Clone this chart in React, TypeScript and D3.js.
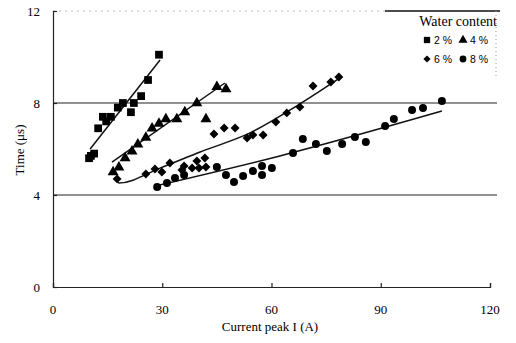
import React, { useEffect, useRef } from "react";
import * as d3 from "d3";

// Measured points: [current peak I (A), time (µs)] per water content
const water2: [number, number][] = [
  [9.9, 5.6], [10.4, 5.7], [11.3, 5.8], [12.4, 6.9], [13.7, 7.4], [14.6, 7.2],
  [15.9, 7.4], [17.8, 7.8], [19.2, 8.0], [21.4, 7.6], [22.2, 8.0], [24.2, 8.3],
  [26.1, 9.0], [29.1, 10.1],
];
const water4: [number, number][] = [
  [16.5, 5.0], [18.1, 5.2], [19.8, 5.6], [21.7, 5.9], [23.3, 6.2], [25.5, 6.5],
  [27.2, 6.9], [29.1, 7.1], [31.0, 7.3], [34.0, 7.3], [36.2, 7.6], [39.5, 8.0],
  [42.0, 7.3], [45.0, 8.7], [47.5, 8.6],
];
const water6: [number, number][] = [
  [17.6, 4.7], [25.5, 4.91], [28.0, 5.13], [29.9, 5.0], [32.1, 5.39], [35.4, 5.09],
  [36.0, 5.26], [38.2, 5.17], [39.5, 5.48], [40.1, 5.17], [41.7, 5.61], [42.0, 5.22],
  [44.2, 6.65], [47.0, 6.91], [50.0, 6.91], [53.3, 6.48], [54.9, 6.61], [57.7, 6.61],
  [61.2, 7.17], [64.2, 7.57], [67.8, 7.83], [71.4, 8.74], [76.3, 8.91], [78.5, 9.13],
];
const water8: [number, number][] = [
  [28.6, 4.35], [31.3, 4.52], [33.5, 4.74], [36.0, 4.87], [45.0, 5.22], [47.5, 4.87],
  [49.7, 4.57], [52.2, 4.83], [54.9, 5.04], [57.4, 5.26], [57.4, 4.87], [60.1, 5.17],
  [65.9, 5.83], [68.6, 6.43], [72.2, 6.22], [75.2, 5.91], [79.4, 6.22], [82.9, 6.52],
  [85.9, 6.3], [91.2, 7.0], [93.6, 7.3], [98.6, 7.7], [101.6, 7.78], [106.8, 8.09],
];

// Trend curves for each series
const trend2: [number, number][] = [[10.2, 6.0], [29.4, 9.87]];
const trend4: [number, number][] = [[16.2, 5.43], [47.2, 8.87]];
const trend6: [number, number][] = [
  [17.0, 4.78], [18.1, 4.52], [29.4, 5.17], [40.4, 5.87], [54.1, 6.7], [67.8, 7.96], [78.8, 9.09],
];
const trend8: [number, number][] = [[28.0, 4.39], [62.3, 5.7], [106.8, 7.65]];

const xTicks = [0, 30, 60, 90, 120];
const yTicks = [0, 4, 8, 12];
const gridValues = [4, 8];
const legendLabels = ["2 %", "4 %", "6 %", "8 %"];

const W = 516;
const H = 343;

export default function App() {
  const ref = useRef<SVGSVGElement>(null);

  useEffect(() => {
    const svg = d3.select(ref.current);
    svg.selectAll("*").remove();

    const x = d3.scaleLinear().domain([0, 120]).range([53, 490]);
    const y = d3.scaleLinear().domain([0, 12]).range([287, 11]);
    const serif = "'Liberation Serif', 'Times New Roman', serif";
    const sans = "'Liberation Sans', Arial, sans-serif";

    // Horizontal reference lines
    svg.selectAll("line.grid")
      .data(gridValues)
      .join("line")
      .attr("x1", x(0)).attr("x2", 497)
      .attr("y1", (d) => y(d)).attr("y2", (d) => y(d))
      .attr("stroke", "#222").attr("stroke-width", 1.2);

    // Top frame: faint on the left, solid behind the legend
    svg.append("line")
      .attr("x1", x(0)).attr("x2", 385).attr("y1", y(12)).attr("y2", y(12))
      .attr("stroke", "#bbb").attr("stroke-width", 1).attr("stroke-dasharray", "2,4");
    svg.append("line")
      .attr("x1", 385).attr("x2", 500).attr("y1", y(12)).attr("y2", y(12))
      .attr("stroke", "#111").attr("stroke-width", 1.5);
    svg.append("line")
      .attr("x1", 496).attr("x2", 496).attr("y1", y(12)).attr("y2", 76)
      .attr("stroke", "#999").attr("stroke-width", 1).attr("stroke-dasharray", "1,3");

    // Axes
    const xAxis = svg.append("g").attr("transform", `translate(0,${y(0)})`)
      .call(d3.axisBottom(x).tickValues(xTicks).tickSizeInner(-4).tickSizeOuter(-4).tickFormat(() => ""));
    xAxis.selectAll("path, line").attr("stroke", "#222").attr("stroke-width", 1.2);

    const yAxis = svg.append("g").attr("transform", `translate(${x(0)},0)`)
      .call(d3.axisLeft(y).tickValues(yTicks).tickSizeInner(-4).tickSizeOuter(-4).tickFormat(() => ""));
    yAxis.selectAll("path, line").attr("stroke", "#222").attr("stroke-width", 1.2);

    svg.selectAll("text.xt")
      .data(xTicks)
      .join("text")
      .attr("x", (d) => x(d)).attr("y", 314)
      .attr("text-anchor", "middle")
      .attr("font-family", serif).attr("font-size", 13)
      .text((d) => d);

    svg.selectAll("text.yt")
      .data(yTicks)
      .join("text")
      .attr("x", 40).attr("y", (d) => y(d) + 5)
      .attr("text-anchor", "end")
      .attr("font-family", serif).attr("font-size", 13)
      .text((d) => d);

    svg.append("text")
      .attr("x", 270).attr("y", 331)
      .attr("text-anchor", "middle")
      .attr("font-family", serif).attr("font-size", 13)
      .text("Current peak I (A)");

    svg.append("text")
      .attr("transform", `translate(24,${150}) rotate(-90)`)
      .attr("text-anchor", "middle")
      .attr("font-family", serif).attr("font-size", 13)
      .text("Time (\u03bcs)");

    // Trend curves
    const line = d3.line<[number, number]>()
      .x((d) => x(d[0])).y((d) => y(d[1]))
      .curve(d3.curveMonotoneX);
    [trend2, trend4, trend6, trend8].forEach((t) => {
      svg.append("path").attr("d", line(t)).attr("fill", "none")
        .attr("stroke", "#111").attr("stroke-width", 1.5);
    });

    // Markers
    const series = [
      { data: water2, type: d3.symbolSquare, size: 60, rot: 0 },
      { data: water4, type: d3.symbolTriangle, size: 52, rot: 0 },
      { data: water6, type: d3.symbolSquare, size: 40, rot: 45 },
      { data: water8, type: d3.symbolCircle, size: 50, rot: 0 },
    ];
    series.forEach((s) => {
      const sym = d3.symbol().type(s.type).size(s.size);
      svg.append("g").selectAll("path")
        .data(s.data)
        .join("path")
        .attr("d", sym() as string)
        .attr("transform", (d) => `translate(${x(d[0])},${y(d[1])}) rotate(${s.rot})`)
        .attr("fill", "#000");
    });

    // Legend
    svg.append("text")
      .attr("x", 497).attr("y", 26)
      .attr("text-anchor", "end")
      .attr("font-family", serif).attr("font-size", 14)
      .text("Water content");

    const legendPos = [
      { lx: 427, ly: 44 }, { lx: 463, ly: 44 },
      { lx: 427, ly: 63 }, { lx: 463, ly: 63 },
    ];
    const legendSym = [
      { type: d3.symbolSquare, size: 40, rot: 0 },
      { type: d3.symbolTriangle, size: 36, rot: 0 },
      { type: d3.symbolSquare, size: 26, rot: 45 },
      { type: d3.symbolCircle, size: 36, rot: 0 },
    ];
    legendLabels.forEach((lab, i) => {
      const p = legendPos[i];
      const s = legendSym[i];
      svg.append("path")
        .attr("d", d3.symbol().type(s.type).size(s.size)() as string)
        .attr("transform", `translate(${p.lx},${p.ly - 4}) rotate(${s.rot})`)
        .attr("fill", "#000");
      svg.append("text")
        .attr("x", p.lx + 7).attr("y", p.ly)
        .attr("font-family", sans).attr("font-size", 10.5)
        .text(lab);
    });
  }, []);

  return (
    <svg
      ref={ref}
      width={W}
      height={H}
      style={{ position: "absolute", left: 0, top: 0, background: "#fff" }}
    />
  );
}
